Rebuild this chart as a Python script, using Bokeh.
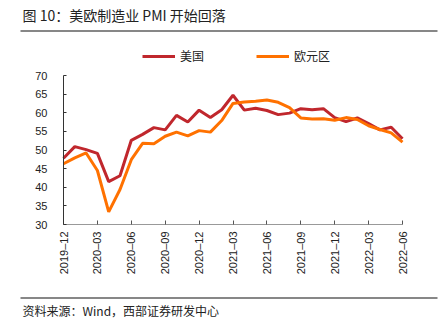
import math
from bokeh.plotting import figure
from bokeh.models import Range1d, FixedTicker, Legend, LegendItem, Label, BoxAnnotation
from bokeh.embed import file_html
from bokeh.resources import INLINE

title_text = "图 10：美欧制造业 PMI 开始回落"
source_text = "资料来源：Wind，西部证券研发中心"
series_names = ["美国", "欧元区"]

months = list(range(31))
us = [47.8, 50.9, 50.1, 49.1, 41.5, 43.1, 52.6, 54.2, 56.0, 55.4, 59.3, 57.5,
      60.7, 58.7, 60.8, 64.7, 60.7, 61.2, 60.6, 59.5, 59.9, 61.1, 60.8, 61.1,
      58.7, 57.6, 58.6, 57.1, 55.4, 56.1, 53.0]
ez = [46.3, 47.9, 49.2, 44.5, 33.4, 39.4, 47.4, 51.8, 51.7, 53.7, 54.8, 53.8,
      55.2, 54.8, 57.9, 62.5, 62.9, 63.1, 63.4, 62.8, 61.4, 58.6, 58.3, 58.4,
      58.0, 58.7, 58.2, 56.5, 55.5, 54.6, 52.1]
x_ticks = [0, 3, 6, 9, 12, 15, 18, 21, 24, 27, 30]
x_tick_labels = ["2019–12", "2020–03", "2020–06", "2020–09", "2020–12", "2021–03",
                 "2021–06", "2021–09", "2021–12", "2022–03", "2022–06"]
y_ticks = [30, 35, 40, 45, 50, 55, 60, 65, 70]

CJK = "Noto Sans CJK SC"
LAT = "Liberation Sans"

W, H = 445, 335
# plot-area edges in canvas pixels
PL, PR, PT, PB = 63, 402, 75, 224
x0, x1 = months[0], months[-1]
y0, y1 = y_ticks[0], y_ticks[-1]
kx = (PR - PL) / (x1 - x0)
ky = (PB - PT) / (y1 - y0)

# the frame covers the whole canvas; axes are pinned at the data edges
p = figure(width=W, height=H, output_backend="svg", toolbar_location=None,
           x_range=Range1d(x0 - PL / kx, x1 + (W - PR) / kx),
           y_range=Range1d(y0 - (H - PB) / ky, y1 + PT / ky),
           min_border=0)
p.grid.visible = False
p.outline_line_color = None

r1 = p.line(months, us, line_color="#C0272D", line_width=3)
r2 = p.line(months, ez, line_color="#FF7100", line_width=3)


def sy(y):  # canvas y (from top) -> screen y from bottom
    return H - y


legend = Legend(items=[LegendItem(label=series_names[0], renderers=[r1]),
                       LegendItem(label=series_names[1], renderers=[r2])],
                orientation="horizontal", location=(142, sy(64)),
                glyph_width=33, glyph_height=16, label_height=16, label_standoff=5, spacing=52,
                padding=0, margin=0, border_line_color=None, background_fill_alpha=0,
                label_text_font=CJK, label_text_font_size="12px", label_text_color="#222222")
p.add_layout(legend, "center")

p.xaxis.fixed_location = y0
p.xaxis.bounds = (x0, x1)
p.xaxis.ticker = FixedTicker(ticks=x_ticks)
p.xaxis.major_label_overrides = {t: l for t, l in zip(x_ticks, x_tick_labels)}
p.xaxis.major_label_orientation = math.pi / 2
p.xaxis.major_tick_in = 4
p.xaxis.major_tick_out = 0
p.xaxis.minor_tick_line_color = None
p.xaxis.axis_line_color = "#999999"
p.xaxis.major_tick_line_color = "#555555"
p.xaxis.major_label_standoff = 7
p.xaxis.major_label_text_font = LAT
p.xaxis.major_label_text_font_size = "11px"
p.xaxis.major_label_text_color = "#222222"

p.yaxis.fixed_location = x0
p.yaxis.bounds = (y0, y1)
p.yaxis.ticker = FixedTicker(ticks=y_ticks)
p.yaxis.major_tick_in = 3
p.yaxis.major_tick_out = 0
p.yaxis.minor_tick_line_color = None
p.yaxis.axis_line_color = "#333333"
p.yaxis.major_tick_line_color = "#333333"
p.yaxis.major_label_standoff = 16
p.yaxis.major_label_text_font = LAT
p.yaxis.major_label_text_font_size = "11px"
p.yaxis.major_label_text_color = "#222222"

# title, rules and source
p.add_layout(Label(x=22, y=sy(14), x_units="screen", y_units="screen", text=title_text,
                   text_baseline="middle", text_font=CJK, text_font_size="14px",
                   text_color="#222222"))
for yy in (30, 297):
    p.add_layout(BoxAnnotation(left=20, right=437, top=sy(yy), bottom=sy(yy + 1),
                               left_units="screen", right_units="screen",
                               top_units="screen", bottom_units="screen",
                               fill_color="#111111", fill_alpha=1, line_color=None))
p.add_layout(Label(x=22, y=sy(310), x_units="screen", y_units="screen", text=source_text,
                   text_baseline="middle", text_font=CJK, text_font_size="12px",
                   text_color="#222222"))

open("out.html", "w").write(file_html(p, INLINE))
